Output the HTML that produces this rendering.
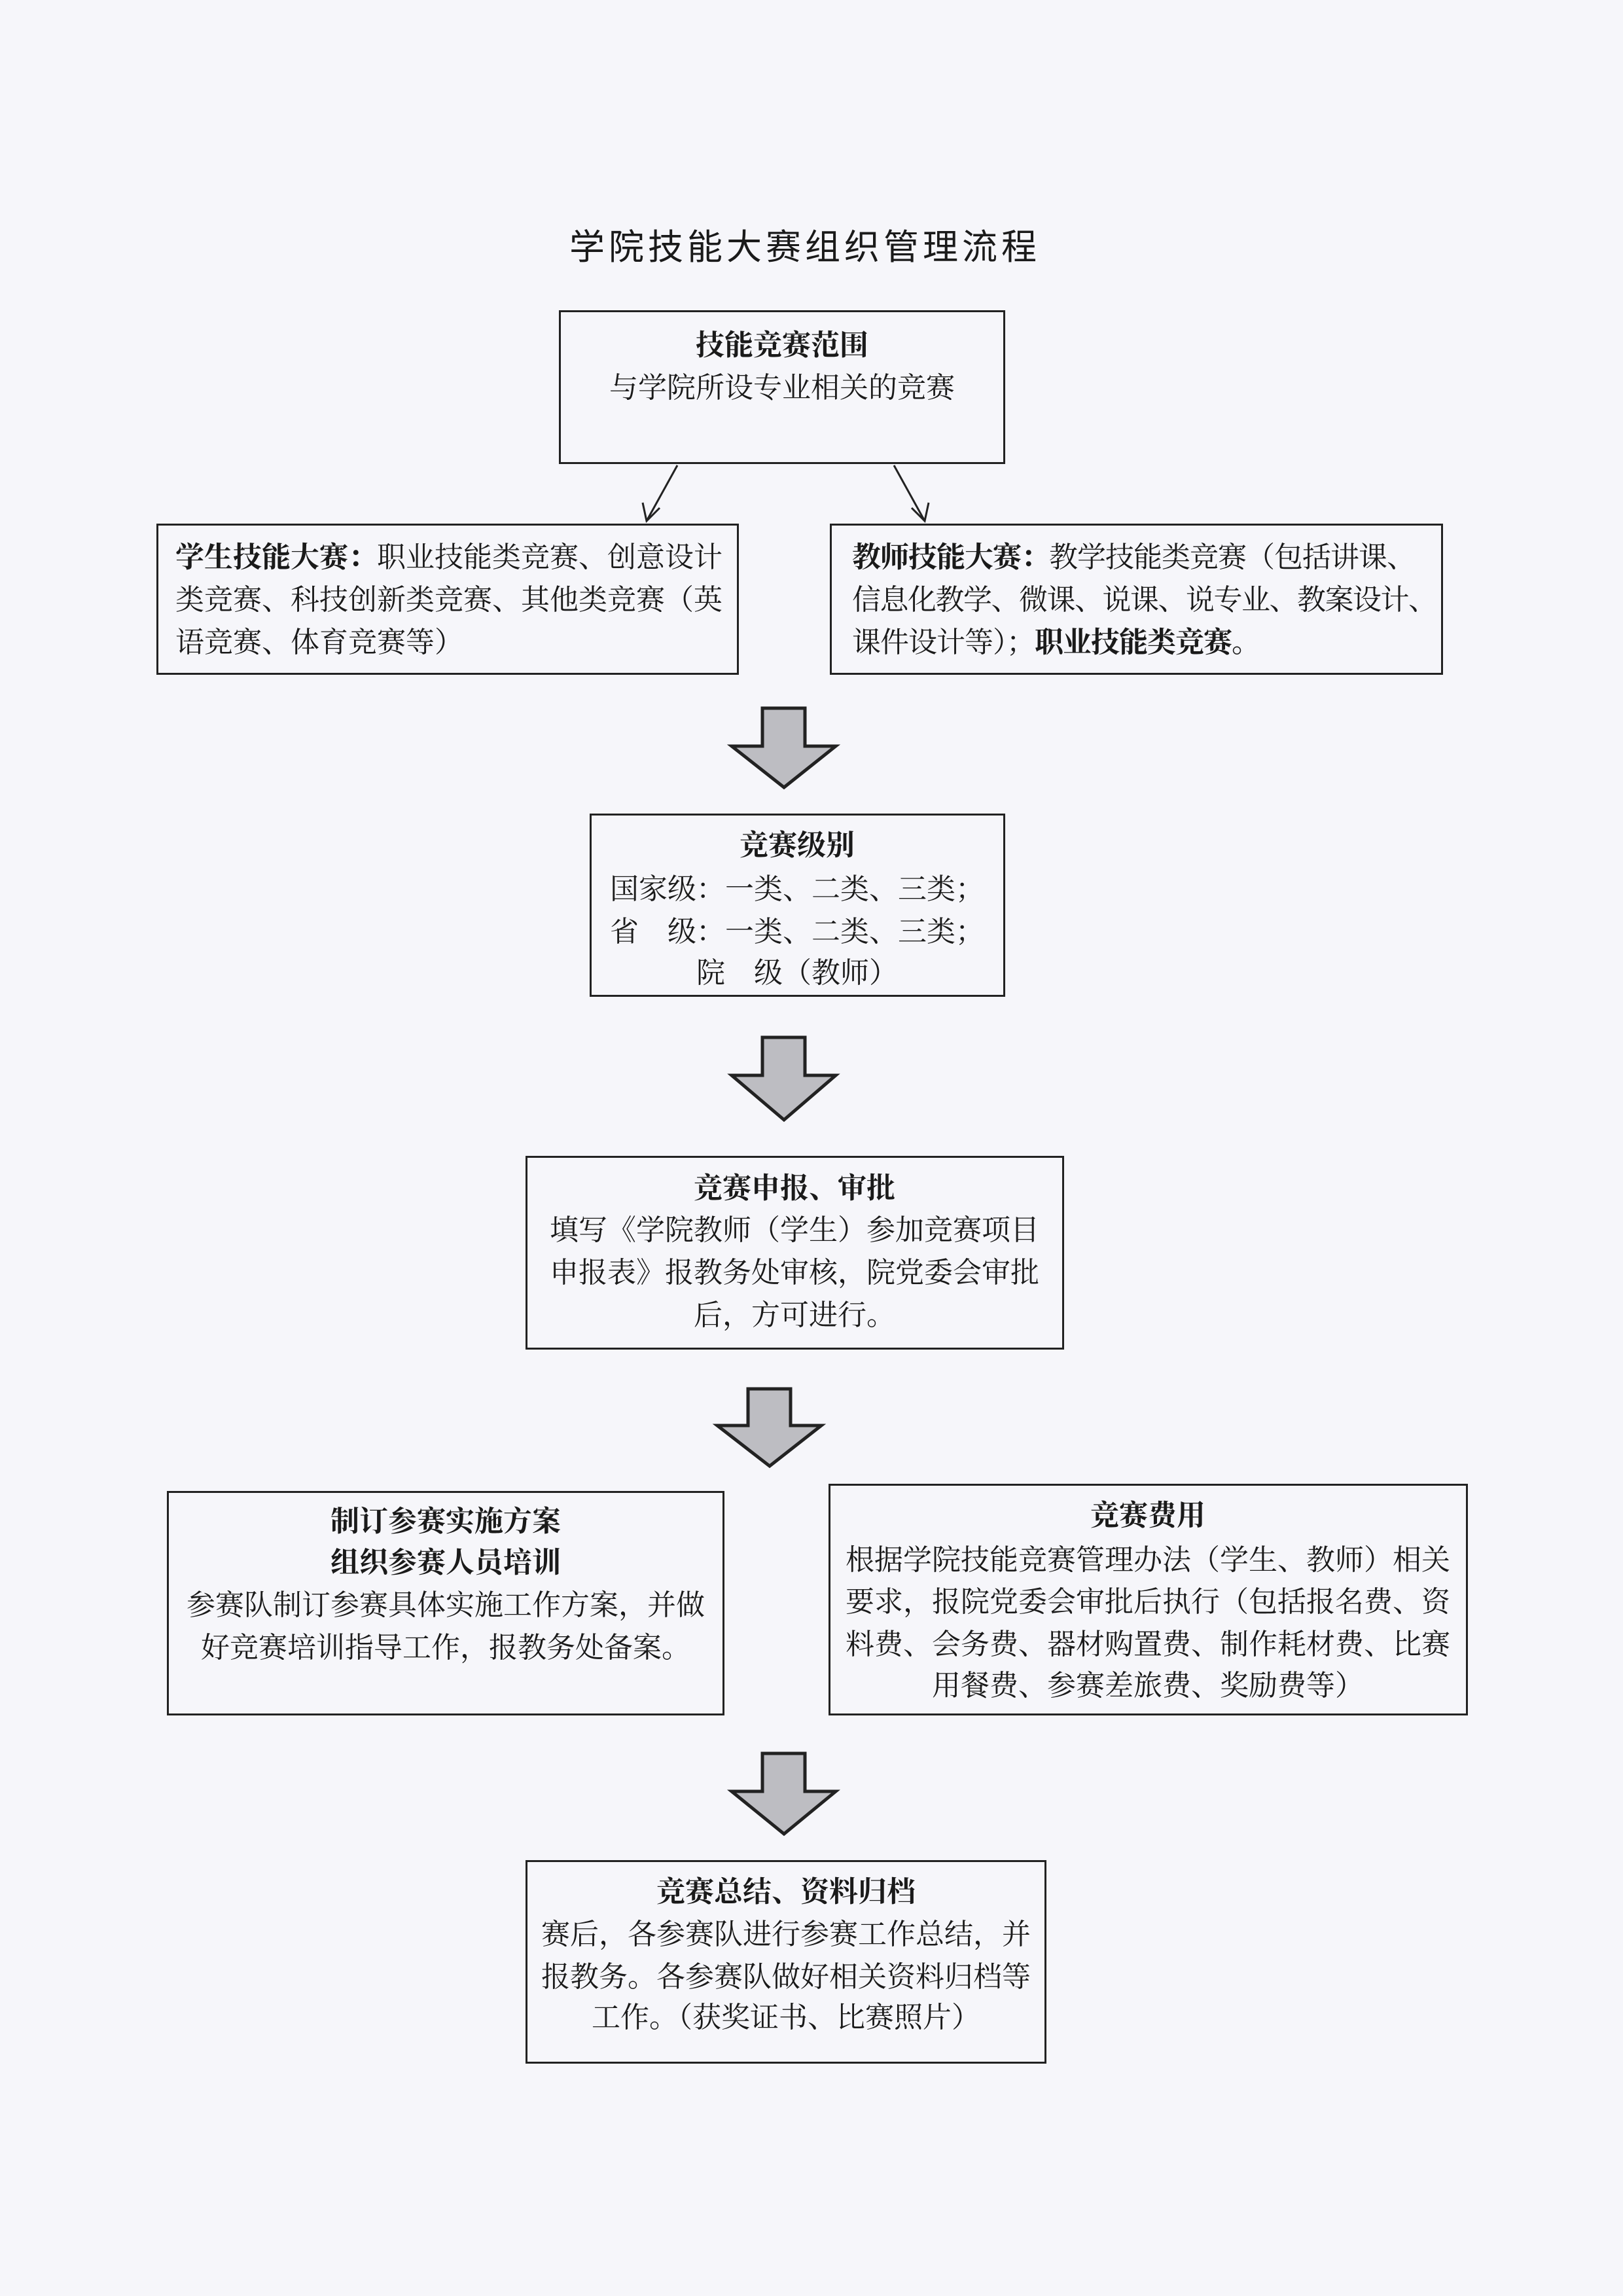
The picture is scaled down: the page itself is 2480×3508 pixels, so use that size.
<!DOCTYPE html>
<html><head><meta charset="utf-8">
<style>
html,body{margin:0;padding:0}
body{width:2480px;height:3508px;background:#f6f6fa;position:relative;overflow:hidden;font-family:"Liberation Serif","Noto Serif CJK SC",serif;color:#1a1a1a}
.b{position:absolute;border:3px solid #222;box-sizing:border-box;background:transparent}
.t{position:absolute;white-space:nowrap;font-size:44px;line-height:64px;height:64px}
.c{transform:translateX(-50%)}
.bd{font-weight:bold}
</style></head><body>
<div class="t c" style="left:1230px;top:338px;font-size:54px;line-height:80px;letter-spacing:6px;font-family:'Liberation Sans','Noto Sans CJK SC',sans-serif">学院技能大赛组织管理流程</div>

<div class="b" style="left:854px;top:474px;width:682px;height:235px"></div>
<div class="t c bd" style="left:1195px;top:496px">技能竞赛范围</div>
<div class="t c" style="left:1195px;top:561px">与学院所设专业相关的竞赛</div>

<svg style="position:absolute;left:0;top:0" width="2480" height="3508">
<g stroke="#222" stroke-width="3" fill="none">
<line x1="1035" y1="711" x2="988" y2="796"/>
<polyline points="982,768 988,796 1008,776"/>
<line x1="1366" y1="711" x2="1413" y2="796"/>
<polyline points="1393,776 1413,796 1419,768"/>
</g>
<g fill="#bdbdc2" stroke="#222" stroke-width="5" stroke-linejoin="miter">
<polygon points="1165,1082 1230,1082 1230,1140 1277,1140 1198,1203 1118,1140 1165,1140"/>
<polygon points="1165,1585 1230,1585 1230,1643 1277,1643 1198,1711 1118,1643 1165,1643"/>
<polygon points="1143,2122 1208,2122 1208,2178 1255,2178 1176,2240 1096,2178 1143,2178"/>
<polygon points="1165,2679 1230,2679 1230,2737 1277,2737 1198,2802 1118,2737 1165,2737"/>
</g>
</svg>

<div class="b" style="left:239px;top:800px;width:890px;height:231px"></div>
<div class="t" style="left:268px;top:820px"><b>学生技能大赛：</b>职业技能类竞赛、创意设计</div>
<div class="t" style="left:268px;top:885px">类竞赛、科技创新类竞赛、其他类竞赛（英</div>
<div class="t" style="left:268px;top:950px">语竞赛、体育竞赛等）</div>

<div class="b" style="left:1268px;top:800px;width:937px;height:231px"></div>
<div class="t" style="left:1302px;top:820px;letter-spacing:-1px"><b>教师技能大赛：</b>教学技能类竞赛（包括讲课、</div>
<div class="t" style="left:1302px;top:885px;letter-spacing:-1.5px">信息化教学、微课、说课、说专业、教案设计、</div>
<div class="t" style="left:1302px;top:950px;letter-spacing:-1px">课件设计等）；<b>职业技能类竞赛。</b></div>

<div class="b" style="left:901px;top:1243px;width:635px;height:280px"></div>
<div class="t c bd" style="left:1218px;top:1260px">竞赛级别</div>
<div class="t c" style="left:1218px;top:1327px">国家级：一类、二类、三类；</div>
<div class="t c" style="left:1218px;top:1392px">省　级：一类、二类、三类；</div>
<div class="t c" style="left:1218px;top:1455px">院　级（教师）</div>

<div class="b" style="left:803px;top:1766px;width:823px;height:296px"></div>
<div class="t c bd" style="left:1214px;top:1784px">竞赛申报、审批</div>
<div class="t c" style="left:1214px;top:1848px">填写《学院教师（学生）参加竞赛项目</div>
<div class="t c" style="left:1214px;top:1913px">申报表》报教务处审核，院党委会审批</div>
<div class="t c" style="left:1214px;top:1978px">后，方可进行。</div>

<div class="b" style="left:255px;top:2278px;width:852px;height:343px"></div>
<div class="t c bd" style="left:681px;top:2293px">制订参赛实施方案</div>
<div class="t c bd" style="left:681px;top:2356px">组织参赛人员培训</div>
<div class="t c" style="left:681px;top:2421px">参赛队制订参赛具体实施工作方案，并做</div>
<div class="t c" style="left:681px;top:2486px">好竞赛培训指导工作，报教务处备案。</div>

<div class="b" style="left:1266px;top:2267px;width:977px;height:354px"></div>
<div class="t c bd" style="left:1754px;top:2284px">竞赛费用</div>
<div class="t c" style="left:1754px;top:2352px">根据学院技能竞赛管理办法（学生、教师）相关</div>
<div class="t c" style="left:1754px;top:2416px">要求，报院党委会审批后执行（包括报名费、资</div>
<div class="t c" style="left:1754px;top:2481px">料费、会务费、器材购置费、制作耗材费、比赛</div>
<div class="t c" style="left:1754px;top:2544px">用餐费、参赛差旅费、奖励费等）</div>

<div class="b" style="left:803px;top:2842px;width:796px;height:311px"></div>
<div class="t c bd" style="left:1201px;top:2859px">竞赛总结、资料归档</div>
<div class="t c" style="left:1201px;top:2924px">赛后，各参赛队进行参赛工作总结，并</div>
<div class="t c" style="left:1201px;top:2989px">报教务。各参赛队做好相关资料归档等</div>
<div class="t c" style="left:1201px;top:3051px">工作。（获奖证书、比赛照片）</div>
</body></html>
